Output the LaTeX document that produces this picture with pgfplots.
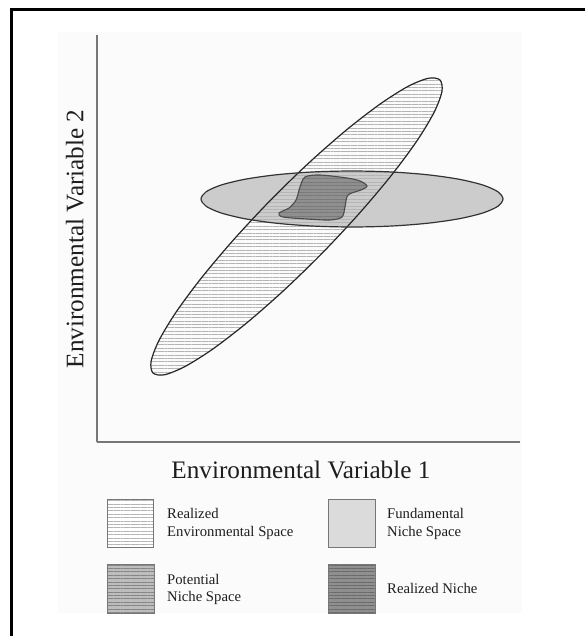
\documentclass[border=0pt]{standalone}
\usepackage{fontspec}
\setmainfont{Liberation Serif}
\usepackage{pgfplots}
\usepackage{pgfplotstable}
\pgfplotsset{compat=1.18}
\usetikzlibrary{patterns.meta}
\definecolor{hfill}{HTML}{CCCCCC}
\definecolor{blobfill}{HTML}{8F8F8F}
\definecolor{hatch}{HTML}{B4B4B4}
\definecolor{axisgray}{HTML}{777777}
\definecolor{txt}{HTML}{1E1E1E}

\pgfplotstableread{
x y
270.1 435.4
233.9 396.6
201.9 358.7
176.3 324.2
159.0 295.6
151.1 274.7
153.0 263.0
164.7 261.3
185.4 269.7
213.7 287.6
247.6 313.8
284.9 346.6
322.9 383.6
359.1 422.4
391.1 460.3
416.7 494.8
434.0 523.5
441.9 544.3
440.0 556.0
428.3 557.7
407.6 549.4
379.3 531.4
345.4 505.2
308.1 472.4
}\tilted

\pgfplotstableread{
x y
352.0 465.0
312.9 464.05
276.5 461.25
245.2 456.8
221.2 451.0
206.1 444.25
201.0 437.0
206.1 429.75
221.2 423.0
245.2 417.2
276.5 412.75
312.9 409.95
352.0 409.0
391.1 409.95
427.5 412.75
458.8 417.2
482.8 423.0
497.9 429.75
503.0 437.0
497.9 444.25
482.8 451.0
458.8 456.8
427.5 461.25
391.1 464.05
}\horiz

\pgfplotstableread{
x y
305 459
320 461
347 458
360 455
367 450
361 446
348 441
345 429
342 419
330 416
307 417
283 419
279 423
289 428
296 436
300 449
}\blob

\begin{document}
\begin{tikzpicture}[x=1bp,y=1bp]
\useasboundingbox (0,0) rectangle (585,-636);
\fill[black!1.5] (58,-32) rectangle (522,-613);
\draw[line width=2.2bp] (11.5,-640) -- (11.5,-9.5) -- (590,-9.5);
\begin{axis}[
  at={(97bp,-442bp)}, anchor=south west,
  scale only axis, width=423bp, height=407bp,
  xmin=97, xmax=520, ymin=194, ymax=601,
  axis lines=left,
  axis line style={-, draw=axisgray, line width=1.5bp},
  xtick=\empty, ytick=\empty,
  xlabel={Environmental Variable 1},
  ylabel={Environmental Variable 2},
  label style={font=\fontsize{25.2bp}{30bp}\selectfont, text=txt, inner sep=0pt},
  xlabel style={at={(axis description cs:0.482,-0.0885)}, anchor=base},
  ylabel style={at={(axis description cs:-0.032,0.499)}, anchor=base},
]
\addplot[draw=none, fill=hfill, smooth cycle] table {\horiz};
\addplot[draw=none, pattern={Lines[angle=0,distance=3.4pt,line width=0.5pt]}, pattern color=hatch, smooth cycle] table {\tilted};
\addplot[draw=none, fill=blobfill, smooth cycle] table {\blob};
\addplot[draw=none, pattern={Lines[angle=0,distance=3.4pt,line width=0.5pt]}, pattern color=black!52, smooth cycle] table {\blob};
\addplot[draw=black!85, line width=1.2bp, fill=none, smooth cycle] table {\tilted};
\addplot[draw=black!80, line width=1.2bp, fill=none, smooth cycle] table {\horiz};
\addplot[draw=black!70, line width=1.1bp, fill=none, smooth cycle] table {\blob};
\end{axis}
% legend
\fill[white] (107,-499) rectangle (153,-547);
\fill[pattern={Lines[angle=0,distance=3.4pt,line width=0.5pt]}, pattern color=hatch] (107,-499) rectangle (153,-547);
\draw[axisgray, line width=1bp] (107,-499) rectangle (153,-547);
\fill[black!14] (328,-499) rectangle (375,-547);
\draw[axisgray, line width=1bp] (328,-499) rectangle (375,-547);
\fill[black!26] (107,-564) rectangle (154,-613);
\fill[pattern={Lines[angle=0,distance=3.4pt,line width=0.5pt]}, pattern color=black!48] (107,-564) rectangle (154,-613);
\draw[axisgray, line width=1bp] (107,-564) rectangle (154,-613);
\fill[blobfill] (328,-564) rectangle (375,-613);
\fill[pattern={Lines[angle=0,distance=3.4pt,line width=0.5pt]}, pattern color=black!58] (328,-564) rectangle (375,-613);
\draw[axisgray, line width=1bp] (328,-564) rectangle (375,-613);
\begin{scope}[every node/.style={inner sep=0pt, anchor=base west, text=txt, font=\fontsize{14.7bp}{18bp}\selectfont}]
\node at (167,-518) {Realized};
\node at (167,-536) {Environmental Space};
\node at (387,-518) {Fundamental};
\node at (387,-536) {Niche Space};
\node at (167,-584) {Potential};
\node at (167,-601) {Niche Space};
\node at (387,-593) {Realized Niche};
\end{scope}
\end{tikzpicture}
\end{document}
